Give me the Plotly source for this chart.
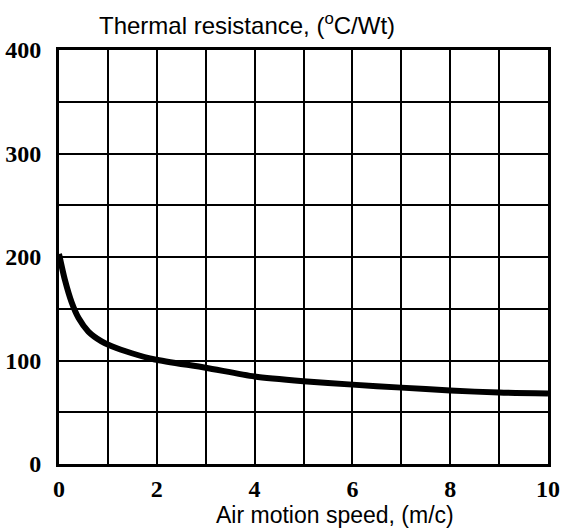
import plotly.graph_objects as go

speed = [0, 0.12, 0.26, 0.4, 0.6, 0.87, 1.08, 1.49, 1.96, 3, 4, 5, 6, 7, 8, 9, 10]
resistance = [203, 178, 156, 141, 128, 118.5, 113.7, 107, 101, 93, 84.5, 80, 76.7, 73.8, 71, 69, 68]

x_ticks = list(range(0, 11))
x_labels = [str(v) if v % 2 == 0 else "" for v in x_ticks]
y_ticks = list(range(0, 401, 50))
y_labels = [str(v) if v % 100 == 0 else "" for v in y_ticks]

L, R, T, B = 59, 18, 50, 67
W, H = 566, 531
pw = W - L - R

fig = go.Figure()
fig.add_trace(go.Scatter(
    x=speed, y=resistance, mode="lines",
    line=dict(color="black", width=6, shape="spline", smoothing=0.7),
    showlegend=False, hoverinfo="skip",
))

tickfont = dict(family="Liberation Serif", size=24, color="black", weight="bold")

fig.update_layout(
    width=W, height=H,
    margin=dict(l=L, r=R, t=T, b=B),
    paper_bgcolor="white", plot_bgcolor="white",
    xaxis=dict(
        range=[0, 10], tickvals=x_ticks, ticktext=x_labels,
        showgrid=True, gridcolor="black", gridwidth=2,
        showline=True, linecolor="black", linewidth=3, mirror=True,
        zeroline=False, ticks="", tickfont=tickfont, ticklabelstandoff=1,
        automargin=False,
    ),
    yaxis=dict(
        range=[0, 400], tickvals=y_ticks, ticktext=y_labels,
        showgrid=True, gridcolor="black", gridwidth=2,
        showline=True, linecolor="black", linewidth=3, mirror=True,
        zeroline=False, ticks="", tickfont=tickfont, ticklabelstandoff=10,
        automargin=False,
    ),
    annotations=[
        dict(text="Thermal resistance, (<sup>o</sup>C/Wt)", xref="paper", yref="paper",
             x=(247 - L) / pw, xanchor="center", y=1, yanchor="middle", yshift=T - 24,
             showarrow=False, font=dict(family="Liberation Sans", size=24, color="black")),
        dict(text="Air motion speed, (m/c)", xref="paper", yref="paper",
             x=(335 - L) / pw, xanchor="center", y=0, yanchor="bottom", yshift=-66,
             showarrow=False, font=dict(family="Liberation Sans", size=23, color="black")),
    ],
)

fig.write_html("out.html", config={"displayModeBar": False},
               post_script="document.body.style.margin='0px';document.body.style.padding='0px';")
